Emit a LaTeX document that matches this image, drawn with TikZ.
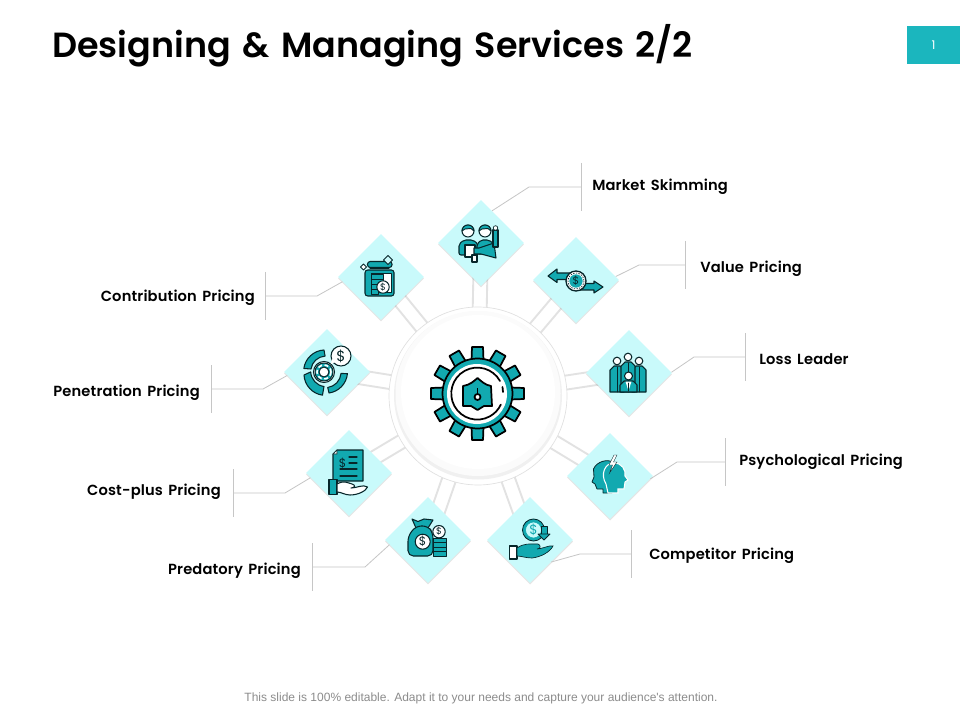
\documentclass[tikz,border=0pt]{standalone}
\usepackage{fontspec}
\setmainfont{Poppins}
\newfontfamily\footfont{Liberation Sans}
\newfontfamily\labfont[LetterSpace=1.0,WordSpace=1.5]{Poppins SemiBold}
\newfontfamily\titfont[WordSpace=1.4]{Poppins SemiBold}
\usetikzlibrary{shapes.geometric,calc,backgrounds,shadows}
\definecolor{tealc}{HTML}{12A9B0}
\definecolor{boxc}{HTML}{1BB6BE}
\definecolor{mintc}{HTML}{C9FAFB}
\definecolor{inkc}{HTML}{07262A}
\definecolor{leadc}{HTML}{C6C6C6}
\definecolor{spokec}{HTML}{E2E2E2}
\tikzset{
 x=0.75pt,y=-0.75pt,
 dia/.style={diamond,aspect=1,fill=mintc,minimum width=64.5pt,minimum height=64.5pt,inner sep=0pt,
   drop shadow={shadow xshift=0pt,shadow yshift=-1.2pt,opacity=.10,fill=black}},
 lab/.style={font=\labfont\fontsize{11}{12}\selectfont,text=black,inner sep=0pt},
 leader/.style={draw=leadc,line width=.6pt},
 spoke/.style={draw=spokec,line width=1.4pt},
 ic/.style={draw=inkc,fill=tealc,line width=.8pt,line join=round},
 icw/.style={draw=inkc,fill=white,line width=.8pt,line join=round},
 ln/.style={draw=inkc,line width=.8pt,line cap=round},
 dol/.style={font=\fontsize{#1}{#1}\selectfont,text=inkc,inner sep=0pt},
}
\newcommand{\spokepair}[1]{%
 \draw[spoke] ($(hub)!5.25pt!90:(#1)$) -- ($(#1)!5.25pt!-90:(hub)$);
 \draw[spoke] ($(hub)!5.25pt!-90:(#1)$) -- ($(#1)!5.25pt!90:(hub)$);}
\newcommand{\callout}[6]{%
 \coordinate (#6e) at (#2,#3);
 \coordinate (#6t) at (#4,#3);
 \coordinate (#6a) at (#4,#3-24);
 \coordinate (#6b) at (#4,#3+24);
 \draw[leader] (#1) -- (#6e) -- (#6t);
 \draw[leader] (#6a) -- (#6b);}
\begin{document}
\begin{tikzpicture}
\useasboundingbox (0,0) rectangle (960,720);
\node[font=\titfont\fontsize{26.2}{30}\selectfont,anchor=west,inner sep=0pt] (title) at (52,45.5) {Designing \& Managing Services 2/2};
\node[fill=boxc,minimum width=39.75pt,minimum height=28.5pt,inner sep=0pt,text=white,font=\fontsize{9}{10}\selectfont] (pg) at (933.5,45) {1};
\node[font=\footfont\fontsize{9}{10}\selectfont,text=black!45,inner sep=0pt] (foot) at (481,698) {This slide is 100\% editable. Adapt it to your needs and capture your audience's attention.};

% hub
\node[circle,draw=black!12,fill=white,line width=.5pt,minimum size=133.5pt,inner sep=0pt] (hub) at (478,396) {};
\fill[black!6] (478,395.5) circle (84);
\fill[black!1.5] (478,393.5) circle (82.5);
\fill[white] (478,392) circle (77);

% diamonds
\node[dia] (d1) at (481,243) {};
\node[dia] (d2) at (576,280) {};
\node[dia] (d3) at (629,373) {};
\node[dia] (d4) at (610,476) {};
\node[dia] (d5) at (530,540) {};
\node[dia] (d6) at (428,540) {};
\node[dia] (d7) at (349,473) {};
\node[dia] (d8) at (327,372) {};
\node[dia] (d9) at (381,277) {};

\begin{pgfonlayer}{background}
 \fill[white] (0,0) rectangle (960,720);
 \foreach \d in {d1,d2,d3,d4,d5,d6,d7,d8,d9}{\spokepair{\d}}
\end{pgfonlayer}

% labels
\node[lab,anchor=west] (l1) at (592,186.5) {Market Skimming};
\node[lab,anchor=west] (l2) at (700,268.5) {Value Pricing};
\node[lab,anchor=west] (l3) at (759,359) {Loss Leader};
\node[lab,anchor=west] (l4) at (739,461.5) {Psychological Pricing};
\node[lab,anchor=west] (l5) at (649,555.5) {Competitor Pricing};
\node[lab,anchor=east] (l6) at (301,570.5) {Predatory Pricing};
\node[lab,anchor=east] (l7) at (221,491.5) {Cost-plus Pricing};
\node[lab,anchor=east] (l8) at (200,392.5) {Penetration Pricing};
\node[lab,anchor=east] (l9) at (255,297.5) {Contribution Pricing};

% callouts
\callout{d1.71.6}{529}{187}{581}{}{c1}
\callout{d2.5.6}{639}{265}{685}{}{c2}
\callout{d3.1}{694}{357}{745}{}{c3}
\callout{d4.-4}{677}{462}{725}{}{c4}
\callout{d5.-46}{580}{554}{631}{}{c5}
\callout{d6.187.5}{365}{567}{312}{}{c6}
\callout{d7.187}{285}{493}{233}{}{c7}
\callout{d8.185}{263}{389}{211}{}{c8}
\callout{d9.187}{317}{296}{265}{}{c9}

% gear
\foreach \a in {0,30,...,330}{
 \begin{scope}[shift={(477.5,393.5)},rotate=\a]
  \draw[ic,line width=1.3pt,draw=black] (33,-6) -- (46.5,-5.5) -- (46.5,5.5) -- (33,6) -- cycle;
 \end{scope}}
\draw[ic,line width=1.3pt,draw=black] (477.5,393.5) circle (35);
\fill[white] (477,394) circle (30);
\draw[ln,line width=1.3pt,draw=black] (500,381) arc (-29:-335:26);
\draw[ln,line width=1.3pt,draw=black] (502.5,387) -- (503,392);
\draw[ic,line width=1.3pt,draw=black] (463,386) .. controls (470,385) and (474,381) .. (477.5,378) .. controls (481,381) and (485,385) .. (491,386) -- (492,406) -- (484,406) -- (477.5,410) -- (471,406) -- (463,406) -- cycle;
\draw[draw=black,line width=1.3pt] (477.5,388) -- (477.5,394);
\draw[icw,line width=1.3pt,draw=black] (477.5,397) circle (3);

% market skimming icon
\draw[ic,rounded corners=1.5pt] (459,255) -- (459,244) -- (464,240) -- (473,240) -- (478,244) -- (478,255) -- cycle;
\draw[icw] (468,231) circle (6);
\draw[ic,line width=.7pt] (462,231) arc (180:360:6) -- (471,228.5) -- (465,229) -- cycle;
\draw[icw] (465,245) rectangle (475,257);
\draw[icw] (472,255) rectangle (477,262);
\draw[ic,rounded corners=1.5pt] (477,254) -- (477,244) -- (481,240) -- (489,240) -- (494,244) -- (494,254) -- cycle;
\draw[icw] (485,231) circle (6);
\draw[ic,line width=.7pt] (479,231) arc (180:360:6) -- (488,228.5) -- (482,229) -- cycle;
\draw[ic] (474,248) -- (479,248) -- (494,243) -- (496,258) -- (481,254) -- (474,254) -- cycle;
\draw[ic] (493,230) rectangle (498,247);
\draw[icw,line width=.5pt] (495.5,228) circle (2.3);

% value icon
\draw[ic] (548,276) -- (557,269) -- (557,273) -- (575,273) -- (575,279.5) -- (557,279.5) -- (557,282.5) -- cycle;
\draw[ic] (603,287) -- (594,281) -- (594,283.5) -- (577,283.5) -- (577,290) -- (594,290) -- (594,293) -- cycle;
\draw[icw,line width=1pt] (576,281) circle (10);
\draw[draw=inkc,line width=.5pt,dash pattern=on 1pt off 1pt] (576,281) circle (8);
\node[circle,fill=tealc,minimum size=10pt,inner sep=0pt,dol=8] (coinb) at (576,281) {\$};

% loss leader icon
\foreach \px/\py in {617/361,639/361,628/357}{
 \draw[ic] (\px-7,392) -- (\px-7,\py+9) -- (\px-3,\py+5) -- (\px+3,\py+5) -- (\px+7,\py+9) -- (\px+7,392) -- cycle;
 \draw[icw] (\px,\py) circle (3.8);
 \draw[ln,line width=.5pt] (\px,\py+6) -- (\px,392);}
\draw[ic] (620,392) -- (620,385) -- (624,381) -- (633,381) -- (637,385) -- (637,392) -- cycle;
\draw[icw] (628.5,376) circle (4);
\fill[white] (625.5,381.5) -- (631.5,381.5) -- (628.5,391) -- cycle;
\draw[ln,line width=.5pt] (628.5,383) -- (628.5,391);

% psychological icon
\draw[ic,line width=.6pt] (603,493) -- (603,489) -- (597,489) -- (595,484) -- (592,482) -- (594,477) -- (593.5,469) .. controls (597,461) and (608,459) .. (612,462) -- (612,493) -- cycle;
\draw[draw=white,fill=tealc,line width=.8pt] (608,493) -- (606,484) .. controls (600,474) and (605,463) .. (614,463) .. controls (622,463) and (626,470) .. (625,476) -- (628,480) -- (625,482) -- (624,489) -- (618,489) -- (618,493) -- cycle;
\draw[draw=inkc,fill=white,line width=.3pt] (614,455) -- (609,465) -- (612.5,465) -- (609.5,473) -- (617,462) -- (613.5,462) -- (617,455) -- cycle;

% competitor icon
\draw[draw=inkc,fill=tealc,line width=.6pt] (533.5,530) circle (11);
\node[circle,fill=mintc,draw=tealc,line width=.5pt,minimum size=12pt,inner sep=0pt,dol=10,text=tealc] (coinc) at (533.5,530) {\$};
\draw[ic,line width=.6pt] (541,526) rectangle (547,534);
\draw[ic,line width=.6pt] (538,534) -- (550,534) -- (544,540) -- cycle;
\draw[icw] (509.5,546) rectangle (517,559);
\fill[tealc,draw=inkc,line width=.5pt] (517,548) .. controls (524,543) and (530,544) .. (538,544) .. controls (541,545) and (541,549) .. (537,549) .. controls (542,549) and (549,545) .. (553,546) .. controls (550,552) and (541,557) .. (532,558) .. controls (526,558) and (521,556) .. (517,556) -- cycle;

% predatory icon
\draw[ic] (412,519) -- (418,521.5) -- (424,519) -- (433,520) -- (428,528) -- (416,528) -- cycle;
\draw[ic,rounded corners=4pt] (416,526) -- (428,526) -- (433,533) -- (433,556) -- (408,556) -- (408,536) -- cycle;
\draw[icw] (422.7,541.7) circle (7.5);
\node[dol=9] (coind) at (422.7,541.7) {\$};
\foreach \yy in {538,542.5,547,551.5}{\draw[ic,line width=.6pt] (433,\yy) rectangle (446,\yy+4.5);}
\draw[icw] (439,531.7) circle (6.2);
\node[dol=7] (coine) at (439,531.7) {\$};

% cost-plus icon
\draw[ic] (337,450) -- (363,450) -- (363,481) -- (333,481) -- (333,454) -- cycle;
\draw[icw,line width=.5pt] (333,454) -- (337,454) -- (337,450) -- cycle;
\node[dol=9] (coinf) at (342.5,463) {\$};
\foreach \yy/\xa in {457/349,463/349,469/340,476/340}{\draw[ln] (\xa,\yy) -- (357,\yy);}
\draw[ic] (329,479.5) rectangle (337,494.5);
\draw[icw] (337,484) .. controls (344,480) and (348,483) .. (352,484) .. controls (356,485) and (355,488) .. (351,488) .. controls (357,488) and (363,484) .. (367.5,487) .. controls (366,491) and (358,495) .. (350,495) .. controls (345,495) and (341,492) .. (337,492) -- cycle;

% penetration icon
\draw[ic] (324,350) arc (-93:-172:21.5) -- (311,369) arc (-172:-93:15) -- cycle;
\draw[ic] (304,375) arc (-183:-262:21.5) -- (324,386.5) arc (-262:-183:15.5) -- cycle;
\draw[ic] (329,393) arc (-278:-355:21.5) -- (341,373.5) arc (-355:-278:15.5) -- cycle;
\draw[icw,line width=.8pt] (324,372) circle (10.5);
\draw[ic,line width=.7pt] (324,372) circle (9);
\draw[draw=white,line width=1.2pt,dash pattern=on 3pt off 2pt] (324,372) circle (7);
\draw[icw] (324,372) circle (5);
\draw[icw] (341,356) circle (10);
\draw[icw,line width=.1pt,draw=white] (331,364) -- (335,362) -- (332,359) -- cycle;
\node[dol=11] (coing) at (341,356) {\$};

% contribution icon
\draw[ic,rounded corners=2pt] (365,270) rectangle (394,296);
\draw[ic,rounded corners=2pt] (367.5,261.5) rectangle (392,267.5);
\draw[ln] (370,268) -- (389,268);
\draw[icw,line width=.6pt] (371,273) rectangle (391.5,292);
\foreach \yy/\xb in {274/383,279/383,284/378,289/378}{\draw[ic,line width=.6pt] (371.5,\yy) rectangle (\xb,\yy+5);}
\draw[icw] (383,287) circle (6.2);
\node[dol=7] (coinh) at (383,287) {\$};
\draw[icw,fill=mintc,line width=.7pt] (388,255.5) -- (392.5,260) -- (388,264.5) -- (383.5,260) -- cycle;
\draw[icw,line width=.6pt] (363.5,264) -- (366.5,267) -- (363.5,270) -- (360.5,267) -- cycle;
\end{tikzpicture}
\end{document}
